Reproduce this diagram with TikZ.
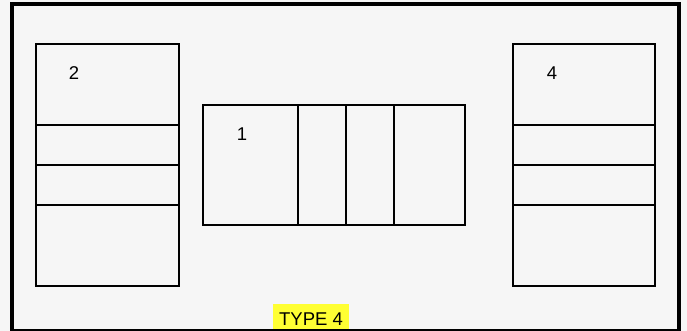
\documentclass[tikz,border=0pt]{standalone}
\usepackage{fontspec}
\setmainfont{Liberation Sans}
\usetikzlibrary{positioning, calc}

\definecolor{bggray}{HTML}{F6F6F6}
\definecolor{tagyellow}{HTML}{FFFF33}

\begin{document}
\begin{tikzpicture}[x=1pt, y=-1pt,
  box/.style={draw, rectangle, line width=2.8pt, inner sep=0pt, outer sep=0pt, anchor=north west},
  divider/.style={line width=2.8pt},
  num/.style={font=\fontsize{18.5}{22}\selectfont},
  tagbox/.style={fill=tagyellow, font=\fontsize{18.5}{22}\selectfont, inner xsep=6pt, inner ysep=3pt, text height=19pt, text depth=0pt}]
\fill[bggray] (0,0) rectangle (687,331);
\useasboundingbox (0,0) rectangle (687,331);
% outer frame
\draw[line width=4.5pt] (12,331) -- (12,4) -- (679,4) -- (679,331) -- cycle;

% side stacks
\node[box, minimum width=143pt, minimum height=242pt] (left) at (36,44) {};
\node[box, minimum width=142pt, minimum height=242pt] (right) at (513,44) {};
\foreach \d in {81,121,161} {
  \draw[divider] ($(left.north west)+(0,\d)$) -- ($(left.north east)+(0,\d)$);
  \draw[divider] ($(right.north west)+(0,\d)$) -- ($(right.north east)+(0,\d)$);
}

% middle block
\node[box, minimum width=262pt, minimum height=120pt] (mid) at (203,105) {};
\foreach \d in {95,143,191}
  \draw[divider] ($(mid.north west)+(\d,0)$) -- ($(mid.south west)+(\d,0)$);

% labels
\node[num] (n2) at ($(left.north west)+(38,29)$) {2};
\node[num] (n4) at ($(right.north west)+(39,29)$) {4};
\node[num] (n1) at ($(mid.north west)+(39,29)$) {1};
\node[tagbox, anchor=base] (type) at (311,325.5) {TYPE 4};
\end{tikzpicture}
\end{document}
